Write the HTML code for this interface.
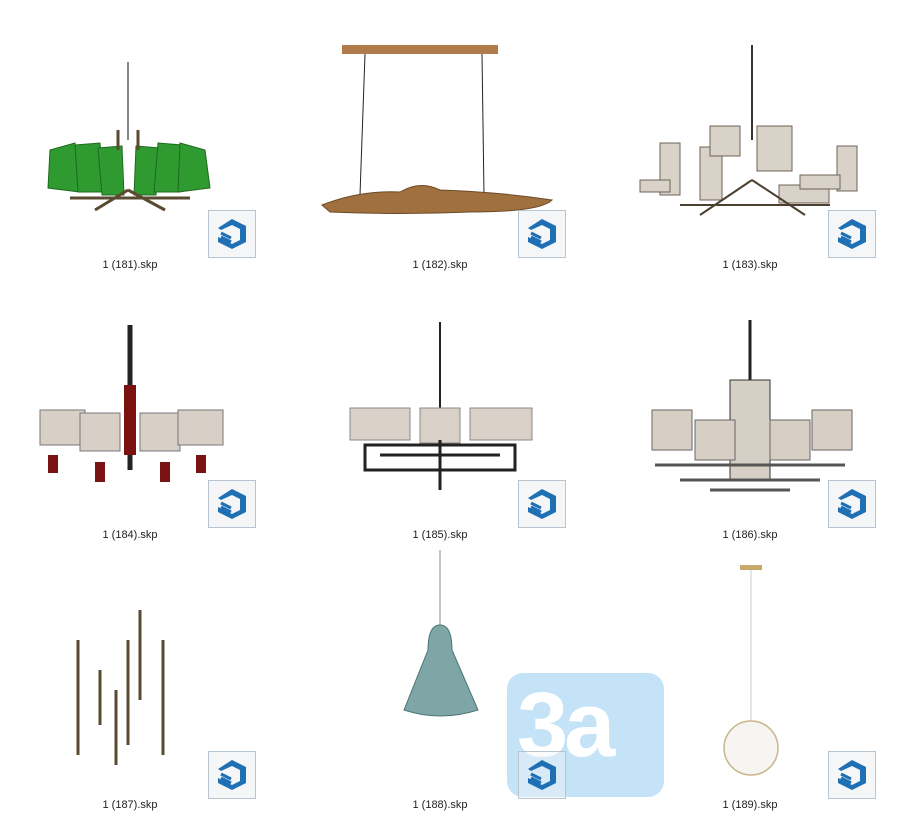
<!DOCTYPE html>
<html><head><style>
body{margin:0;width:900px;height:828px;background:#fff;position:relative;overflow:hidden;font-family:"Liberation Sans",sans-serif}
.l{position:absolute;font-size:11px;color:#222;width:120px;text-align:center}
.ic{position:absolute;width:46px;height:46px;border:1px solid #b8c4d0;background:#f4f6f8}
.wm{position:absolute;left:507px;top:673px;width:157px;height:124px;background:#bfe0f7;border-radius:16px;opacity:.9;overflow:hidden}
.wm span{position:absolute;left:10px;top:6px;font:bold 92px/1 "Liberation Sans",sans-serif;color:#fff;letter-spacing:-4px}
svg{position:absolute;left:0;top:0}
</style></head><body>
<div class="wm"><span>3a</span></div>
<svg width="900" height="828">
<line x1="128" y1="62" x2="128" y2="140" stroke="#888" stroke-width="2"/>
<g fill="#2f9a2f" stroke="#1e6a1e"><polygon points="50,150 75,143 80,192 48,188"/><polygon points="75,145 100,143 104,192 78,192"/><polygon points="98,148 122,146 124,195 102,195"/><polygon points="136,146 160,148 156,195 134,195"/><polygon points="158,143 182,145 180,192 154,192"/><polygon points="180,143 205,150 210,188 178,192"/></g>
<path d="M70,198 H190 M128,190 L95,210 M128,190 L165,210 M118,130 V150 M138,130 V150" stroke="#5a4a30" stroke-width="3" fill="none"/>
<rect x="342" y="45" width="156" height="9" fill="#b07a4a"/>
<line x1="365" y1="54" x2="360" y2="195" stroke="#222"/><line x1="482" y1="54" x2="484" y2="195" stroke="#222"/>
<path d="M322,205 Q360,190 400,192 Q420,180 440,190 Q500,192 552,200 Q540,212 470,212 Q400,215 330,212 Z" fill="#a0703f" stroke="#6d4a28"/>
<line x1="752" y1="45" x2="752" y2="140" stroke="#333" stroke-width="2"/>
<g fill="#d9d2c8" stroke="#6d6356"><rect x="660" y="143" width="20" height="52"/><rect x="700" y="147" width="22" height="53"/><rect x="710" y="126" width="30" height="30"/><rect x="757" y="126" width="35" height="45"/><rect x="779" y="185" width="50" height="18"/><rect x="837" y="146" width="20" height="45"/><rect x="800" y="175" width="40" height="14"/><rect x="640" y="180" width="30" height="12"/></g>
<path d="M680,205 H830 M752,180 L700,215 M752,180 L805,215" stroke="#4a3f30" stroke-width="2" fill="none"/>
<line x1="130" y1="325" x2="130" y2="470" stroke="#222" stroke-width="5"/><rect x="124" y="385" width="12" height="70" fill="#7a1010"/>
<g fill="#d8cfc6" stroke="#777"><rect x="40" y="410" width="45" height="35"/><rect x="80" y="413" width="40" height="38"/><rect x="140" y="413" width="40" height="38"/><rect x="178" y="410" width="45" height="35"/></g>
<g fill="#7a1414"><rect x="48" y="455" width="10" height="18"/><rect x="95" y="462" width="10" height="20"/><rect x="160" y="462" width="10" height="20"/><rect x="196" y="455" width="10" height="18"/></g>
<line x1="440" y1="322" x2="440" y2="440" stroke="#222" stroke-width="2"/>
<g fill="#d9d0c7" stroke="#888"><rect x="350" y="408" width="60" height="32"/><rect x="420" y="408" width="40" height="35"/><rect x="470" y="408" width="62" height="32"/></g>
<path d="M365,445 H515 V470 H365 Z M380,455 H500 M440,440 V490" stroke="#222" stroke-width="3" fill="none"/>
<line x1="750" y1="320" x2="750" y2="410" stroke="#222" stroke-width="3"/>
<rect x="730" y="380" width="40" height="100" fill="#d6cfc6" stroke="#333"/>
<g fill="#d8cfc4" stroke="#666"><rect x="652" y="410" width="40" height="40"/><rect x="695" y="420" width="40" height="40"/><rect x="770" y="420" width="40" height="40"/><rect x="812" y="410" width="40" height="40"/></g>
<path d="M655,465 H845 M680,480 H820 M710,490 H790" stroke="#555" stroke-width="3"/>
<g stroke="#5a4a30" stroke-width="3"><line x1="78" y1="640" x2="78" y2="755"/><line x1="100" y1="670" x2="100" y2="725"/><line x1="116" y1="690" x2="116" y2="765"/><line x1="128" y1="640" x2="128" y2="745"/><line x1="140" y1="610" x2="140" y2="700"/><line x1="163" y1="640" x2="163" y2="755"/></g>
<line x1="440" y1="550" x2="440" y2="628" stroke="#888"/>
<path d="M428,650 Q428,625 440,625 Q452,625 452,650 L478,710 Q440,722 404,710 Z" fill="#7fa6a6" stroke="#4f7575"/>
<rect x="740" y="565" width="22" height="5" fill="#c9a96a"/><line x1="751" y1="570" x2="751" y2="721" stroke="#ccc"/>
<circle cx="751" cy="748" r="27" fill="#f7f5f2" stroke="#c9b68c" stroke-width="1.5"/>
</svg>
<div class="l" style="left:70px;top:259px">1 (181).skp</div>
<div class="l" style="left:380px;top:259px">1 (182).skp</div>
<div class="l" style="left:690px;top:259px">1 (183).skp</div>
<div class="l" style="left:70px;top:529px">1 (184).skp</div>
<div class="l" style="left:380px;top:529px">1 (185).skp</div>
<div class="l" style="left:690px;top:529px">1 (186).skp</div>
<div class="l" style="left:70px;top:799px">1 (187).skp</div>
<div class="l" style="left:380px;top:799px">1 (188).skp</div>
<div class="l" style="left:690px;top:799px">1 (189).skp</div>
<div class="ic" style="left:208px;top:210px"><svg width="46" height="46" viewBox="0 0 46 46"><path d="M23,8 L37,15 V31 L23,38 L9,31 V26 L23,33 L31,29 V18 L23,14 L12,19 L9,17 Z" fill="#1f6fb5"/><path d="M12,22 L22,27 M12,26 L22,31" stroke="#1f6fb5" stroke-width="3"/></svg></div>
<div class="ic" style="left:518px;top:210px"><svg width="46" height="46" viewBox="0 0 46 46"><path d="M23,8 L37,15 V31 L23,38 L9,31 V26 L23,33 L31,29 V18 L23,14 L12,19 L9,17 Z" fill="#1f6fb5"/><path d="M12,22 L22,27 M12,26 L22,31" stroke="#1f6fb5" stroke-width="3"/></svg></div>
<div class="ic" style="left:828px;top:210px"><svg width="46" height="46" viewBox="0 0 46 46"><path d="M23,8 L37,15 V31 L23,38 L9,31 V26 L23,33 L31,29 V18 L23,14 L12,19 L9,17 Z" fill="#1f6fb5"/><path d="M12,22 L22,27 M12,26 L22,31" stroke="#1f6fb5" stroke-width="3"/></svg></div>
<div class="ic" style="left:208px;top:480px"><svg width="46" height="46" viewBox="0 0 46 46"><path d="M23,8 L37,15 V31 L23,38 L9,31 V26 L23,33 L31,29 V18 L23,14 L12,19 L9,17 Z" fill="#1f6fb5"/><path d="M12,22 L22,27 M12,26 L22,31" stroke="#1f6fb5" stroke-width="3"/></svg></div>
<div class="ic" style="left:518px;top:480px"><svg width="46" height="46" viewBox="0 0 46 46"><path d="M23,8 L37,15 V31 L23,38 L9,31 V26 L23,33 L31,29 V18 L23,14 L12,19 L9,17 Z" fill="#1f6fb5"/><path d="M12,22 L22,27 M12,26 L22,31" stroke="#1f6fb5" stroke-width="3"/></svg></div>
<div class="ic" style="left:828px;top:480px"><svg width="46" height="46" viewBox="0 0 46 46"><path d="M23,8 L37,15 V31 L23,38 L9,31 V26 L23,33 L31,29 V18 L23,14 L12,19 L9,17 Z" fill="#1f6fb5"/><path d="M12,22 L22,27 M12,26 L22,31" stroke="#1f6fb5" stroke-width="3"/></svg></div>
<div class="ic" style="left:208px;top:751px"><svg width="46" height="46" viewBox="0 0 46 46"><path d="M23,8 L37,15 V31 L23,38 L9,31 V26 L23,33 L31,29 V18 L23,14 L12,19 L9,17 Z" fill="#1f6fb5"/><path d="M12,22 L22,27 M12,26 L22,31" stroke="#1f6fb5" stroke-width="3"/></svg></div>
<div class="ic" style="left:518px;top:751px;background:rgba(244,246,248,.4)"><svg width="46" height="46" viewBox="0 0 46 46"><path d="M23,8 L37,15 V31 L23,38 L9,31 V26 L23,33 L31,29 V18 L23,14 L12,19 L9,17 Z" fill="#1f6fb5"/><path d="M12,22 L22,27 M12,26 L22,31" stroke="#1f6fb5" stroke-width="3"/></svg></div>
<div class="ic" style="left:828px;top:751px"><svg width="46" height="46" viewBox="0 0 46 46"><path d="M23,8 L37,15 V31 L23,38 L9,31 V26 L23,33 L31,29 V18 L23,14 L12,19 L9,17 Z" fill="#1f6fb5"/><path d="M12,22 L22,27 M12,26 L22,31" stroke="#1f6fb5" stroke-width="3"/></svg></div>
</body></html>
